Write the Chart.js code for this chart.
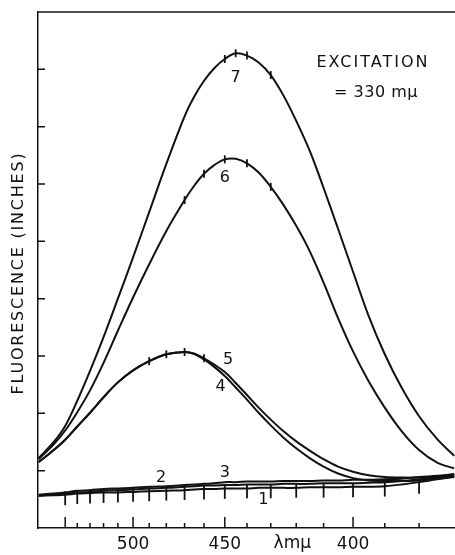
<!DOCTYPE html>
<html>
<head>
<meta charset="utf-8">
<script src="https://cdn.jsdelivr.net/npm/chart.js@4.4.1/dist/chart.umd.min.js"></script>
<style>
  html, body { margin: 0; padding: 0; background: #fff; }
  #wrap { width: 455px; height: 555px; }
</style>
</head>
<body>
<div id="wrap"><canvas id="chart"></canvas></div>
<script>
// wavelength grid (m\u03bc) the traces were read at
const wavelengths = [574, 560, 550, 540, 530, 520, 510, 500, 490, 480, 470, 465, 460, 455, 450, 445, 440, 435, 430, 425, 420, 415, 410, 405, 400, 395, 390, 385, 380, 375, 370.5];

// fluorescence (inches) for each trace
const curve7 = [1.22, 1.50, 1.78, 2.22, 2.74, 3.33, 4.00, 4.72, 5.51, 6.35, 7.18, 7.52, 7.80, 8.02, 8.18, 8.28, 8.24, 8.12, 7.90, 7.55, 7.10, 6.58, 5.93, 5.22, 4.47, 3.70, 3.03, 2.45, 1.95, 1.55, 1.26];
const curve6 = [1.20, 1.46, 1.70, 2.02, 2.40, 2.88, 3.44, 4.02, 4.60, 5.18, 5.72, 5.97, 6.18, 6.33, 6.43, 6.44, 6.36, 6.20, 5.95, 5.64, 5.27, 4.83, 4.28, 3.66, 3.08, 2.56, 2.10, 1.69, 1.36, 1.14, 1.04];
const curve5 = [1.15, 1.36, 1.54, 1.77, 2.01, 2.28, 2.54, 2.75, 2.91, 3.03, 3.07, 3.04, 2.96, 2.85, 2.72, 2.53, 2.32, 2.10, 1.89, 1.69, 1.51, 1.35, 1.20, 1.07, 0.98, 0.92, 0.89, 0.88, 0.88, 0.90, 0.93];
const curve4 = [1.15, 1.36, 1.54, 1.77, 2.01, 2.28, 2.54, 2.75, 2.91, 3.03, 3.07, 3.04, 2.94, 2.81, 2.65, 2.45, 2.24, 2.01, 1.79, 1.58, 1.39, 1.22, 1.07, 0.95, 0.87, 0.83, 0.82, 0.82, 0.83, 0.86, 0.90];
const curve3 = [0.58, 0.60, 0.62, 0.65, 0.66, 0.68, 0.69, 0.70, 0.72, 0.73, 0.75, 0.76, 0.77, 0.78, 0.80, 0.80, 0.81, 0.81, 0.81, 0.82, 0.82, 0.82, 0.83, 0.83, 0.84, 0.84, 0.85, 0.86, 0.89, 0.91, 0.94];
const curve2 = [0.57, 0.59, 0.60, 0.62, 0.63, 0.65, 0.66, 0.67, 0.69, 0.70, 0.72, 0.73, 0.74, 0.74, 0.75, 0.75, 0.76, 0.76, 0.76, 0.77, 0.77, 0.77, 0.78, 0.78, 0.78, 0.79, 0.80, 0.82, 0.85, 0.88, 0.92];
const curve1 = [0.56, 0.57, 0.58, 0.60, 0.61, 0.62, 0.62, 0.63, 0.64, 0.65, 0.66, 0.67, 0.68, 0.68, 0.69, 0.69, 0.69, 0.70, 0.70, 0.70, 0.70, 0.71, 0.71, 0.71, 0.72, 0.72, 0.73, 0.76, 0.80, 0.85, 0.89];

// recorder wavelength marks on the base traces
const markWavelengths = [550, 540, 530, 520, 510, 500, 490, 480, 470, 460, 450, 440, 430, 420, 410, 400, 390, 380];
const markValues = [0.52, 0.54, 0.55, 0.56, 0.57, 0.58, 0.59, 0.60, 0.61, 0.62, 0.63, 0.64, 0.64, 0.65, 0.65, 0.66, 0.67, 0.72];
// marks near the peaks of 7, 6 and 5
const peakMarkWavelengths = [450, 445, 440, 430, 470, 460, 450, 440, 430, 490, 480, 470, 460];
const peakMarkValues = [8.18, 8.28, 8.24, 7.90, 5.72, 6.18, 6.43, 6.36, 5.95, 2.91, 3.03, 3.07, 2.96];

// curve numbers
const curveLabels = ['7', '6', '5', '4', '3', '2', '1'];
const curveLabelWavelengths = [445, 450, 448.5, 452, 450, 483, 433];
const curveLabelValues = [7.85, 6.10, 2.93, 2.46, 0.96, 0.87, 0.49];

// axes
const xMin = 370.3, xMax = 574.7;
const xTickValues = [550, 540, 530, 520, 510, 500, 490, 480, 470, 460, 450, 440, 430, 420, 410, 400, 390, 380];
const xTickLabels = ['', '', '', '', '', '500', '', '', '', '', '450', '', '', '', '', '400', '', ''];
const xMajorTicks = [550, 500, 450, 400];
const yTickValues = [1, 2, 3, 4, 5, 6, 7, 8];
const xTitle = '\u03bbm\u03bc';
const xTitleAt = 421.5; // wavelength under which the axis title is written
const yTitle = 'FLUORESCENCE (INCHES)';
const noteLines = ['EXCITATION', '= 330 m\u03bc'];

const ink = '#111';
const font = 'DejaVu Sans';

// prism spectrometer: the chart paper is linear in 1/lambda^2
class PrismScale extends Chart.LinearScale {
    configure() {
        super.configure();
        this._fLeft = 1 / (this.max * this.max);
        this._fRight = 1 / (this.min * this.min);
    }
    getPixelForValue(value) {
        const f = 1 / (value * value);
        return this.getPixelForDecimal((f - this._fLeft) / (this._fRight - this._fLeft));
    }
    getValueForPixel(pixel) {
        const d = this.getDecimalForPixel(pixel);
        return 1 / Math.sqrt(this._fLeft + d * (this._fRight - this._fLeft));
    }
}
PrismScale.id = 'prism';
Chart.register(PrismScale);

function pts(xs, ys) {
    return xs.map((x, i) => ({ x: x, y: ys[i] }));
}

function trace(values) {
    return {
        data: pts(wavelengths, values),
        borderColor: ink,
        borderWidth: 2,
        pointRadius: 0,
        fill: false,
        tension: 0.35,
    };
}

function marks(xs, ys, r) {
    return {
        data: pts(xs, ys),
        showLine: false,
        pointStyle: 'line',
        rotation: 90,
        pointRadius: r,
        borderColor: ink,
        borderWidth: 1.8,
    };
}

const inkPlugin = {
    id: 'ink',
    afterDraw(chart) {
        const { ctx, chartArea: a, scales: { x, y } } = chart;
        ctx.save();
        ctx.strokeStyle = ink;
        ctx.fillStyle = ink;
        ctx.lineWidth = 1.5;

        // top frame line
        ctx.beginPath();
        ctx.moveTo(a.left, a.top);
        ctx.lineTo(a.right, a.top);
        ctx.stroke();

        // inward ticks
        ctx.beginPath();
        xTickValues.forEach(v => {
            const px = x.getPixelForValue(v);
            const len = xMajorTicks.includes(v) ? 11 : 5;
            ctx.moveTo(px, a.bottom);
            ctx.lineTo(px, a.bottom - len);
        });
        yTickValues.forEach(v => {
            const py = y.getPixelForValue(v);
            ctx.moveTo(a.left, py);
            ctx.lineTo(a.left + 7, py);
        });
        ctx.stroke();

        // curve numbers
        ctx.textAlign = 'center';
        ctx.textBaseline = 'middle';
        ctx.font = '16px "' + font + '"';
        curveLabels.forEach((t, i) => {
            ctx.fillText(t, x.getPixelForValue(curveLabelWavelengths[i]), y.getPixelForValue(curveLabelValues[i]));
        });

        // x axis title sits between 450 and 400
        ctx.font = '17px "' + font + '"';
        ctx.fillText(xTitle, x.getPixelForValue(xTitleAt), a.bottom + 16);

        // excitation note
        ctx.font = '16px "' + font + '"';
        ctx.letterSpacing = '2px';
        ctx.fillText(noteLines[0], a.left + 335, a.top + 51);
        ctx.letterSpacing = '0.5px';
        ctx.fillText(noteLines[1], a.left + 338, a.top + 81);

        // y axis title
        ctx.letterSpacing = '1.8px';
        ctx.translate(19, (a.top + a.bottom) / 2 + 3);
        ctx.rotate(-Math.PI / 2);
        ctx.fillText(yTitle, 0, 0);
        ctx.restore();
    }
};

new Chart(document.getElementById('chart'), {
    type: 'line',
    data: {
        datasets: [
            trace(curve7), trace(curve6), trace(curve5), trace(curve4),
            trace(curve3), trace(curve2), trace(curve1),
            marks(markWavelengths, markValues, 7),
            marks(peakMarkWavelengths, peakMarkValues, 4),
        ]
    },
    options: {
        responsive: true,
        maintainAspectRatio: false,
        animation: false,
        layout: { autoPadding: false, padding: { top: 12, left: 0, right: 0, bottom: 0 } },
        plugins: { legend: { display: false }, tooltip: { enabled: false } },
        scales: {
            x: {
                type: 'prism',
                min: xMin,
                max: xMax,
                afterBuildTicks: s => { s.ticks = xTickValues.map(v => ({ value: v })); },
                afterFit: s => { s.height = 27; },
                grid: { display: false, drawTicks: false },
                border: { display: true, color: ink, width: 1.5 },
                ticks: {
                    autoSkip: false,
                    maxRotation: 0,
                    padding: 6,
                    color: ink,
                    font: { family: font, size: 17 },
                    callback: (v, i) => xTickLabels[i]
                }
            },
            y: {
                type: 'linear',
                min: 0,
                max: 9,
                afterBuildTicks: s => { s.ticks = yTickValues.map(v => ({ value: v })); },
                afterFit: s => { s.width = 38; },
                grid: { display: false, drawTicks: false },
                border: { display: true, color: ink, width: 1.5 },
                ticks: { display: false }
            }
        }
    },
    plugins: [inkPlugin]
});
</script>
</body>
</html>
